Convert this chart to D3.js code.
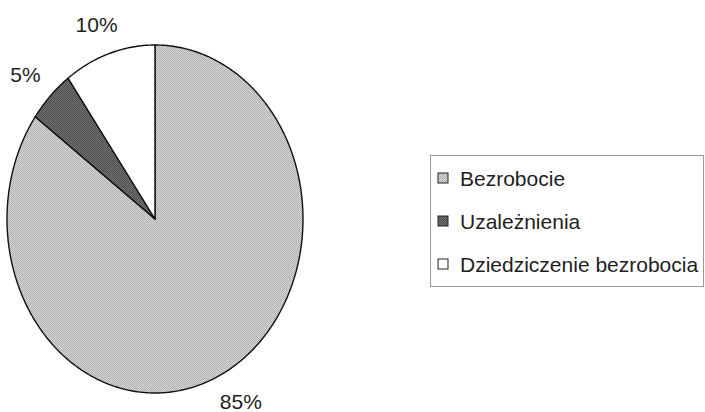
<!DOCTYPE html>
<html>
<head>
<meta charset="utf-8">
<script src="https://cdn.jsdelivr.net/npm/d3@7"></script>
<style>
  body { margin: 0; background: #fff; }
  text { font-family: "Liberation Sans", Arial, sans-serif; fill: #1e1e1e; }
</style>
</head>
<body>
<svg id="chart" width="705" height="412"></svg>
<script>
// chart data
const categories = ["Bezrobocie", "Uzależnienia", "Dziedziczenie bezrobocia"];
const values = [85, 5, 10];
const labels = ["85%", "5%", "10%"];

const svg = d3.select("#chart");
const defs = svg.append("defs");

// dither-like patterns to mimic the scanned halftone fills
function dither(id, a, b) {
  const p = defs.append("pattern").attr("id", id)
    .attr("width", 2).attr("height", 2).attr("patternUnits", "userSpaceOnUse");
  p.append("rect").attr("width", 2).attr("height", 2).attr("fill", a);
  p.append("rect").attr("width", 1).attr("height", 1).attr("fill", b);
  p.append("rect").attr("x", 1).attr("y", 1).attr("width", 1).attr("height", 1).attr("fill", b);
}
dither("lightFill", "#d6d6d6", "#b0b0b0");
dither("darkFill", "#747474", "#4c4c4c");

const fills = ["url(#lightFill)", "url(#darkFill)", "#ffffff"];

// pie geometry: the round pie is squashed into an ellipse
const cx = 155, cy = 219, rx = 148, ry = 174;

const pie = d3.pie().sort(null).value(d => d);
const arcs = pie(values);

// point on the ellipse for a pie angle (0 = 12 o'clock, clockwise)
const onEllipse = (a, ex, ey) => [Math.sin(a) * ex, -Math.cos(a) * ey];

function slicePath(d) {
  const steps = Math.max(4, Math.ceil((d.endAngle - d.startAngle) / 0.01));
  const angles = d3.range(steps + 1).map(k =>
    d.startAngle + (d.endAngle - d.startAngle) * k / steps);
  const pts = [[0, 0]].concat(angles.map(a => onEllipse(a, rx, ry)));
  return d3.line()(pts) + "Z";
}

const g = svg.append("g")
  .attr("transform", `translate(${cx},${cy})`);

g.selectAll("path")
  .data(arcs)
  .enter()
  .append("path")
  .attr("d", slicePath)
  .attr("fill", (d, i) => fills[i])
  .attr("stroke", "#111")
  .attr("stroke-width", 1.4)
  .attr("stroke-linejoin", "round");

// percentage labels outside the slices
const fontSize = 21;
g.selectAll(".lbl")
  .data(arcs)
  .enter()
  .append("text")
  .attr("class", "lbl")
  .attr("font-size", fontSize)
  .attr("text-anchor", "middle")
  .attr("dominant-baseline", "central")
  .text((d, i) => labels[i])
  .each(function (d) {
    const a = (d.startAngle + d.endAngle) / 2;
    const hw = this.getComputedTextLength() / 2, hh = fontSize / 2;
    const [px, py] = onEllipse(a, rx + 20, ry + 20);
    d3.select(this)
      .attr("x", px + Math.sin(a) * hw)
      .attr("y", py - Math.cos(a) * hh);
  });

// legend
const legend = svg.append("g").attr("transform", "translate(430,155)");
legend.append("rect")
  .attr("x", 0.5).attr("y", 0.5)
  .attr("width", 273).attr("height", 131)
  .attr("fill", "#fff")
  .attr("stroke", "#9a9a9a");

const item = legend.selectAll(".item")
  .data(categories)
  .enter()
  .append("g")
  .attr("class", "item")
  .attr("transform", (d, i) => `translate(8,${23 + i * 43})`);

item.append("rect")
  .attr("x", 0).attr("y", -5)
  .attr("width", 10).attr("height", 10)
  .attr("fill", (d, i) => fills[i])
  .attr("stroke", "#222");

item.append("text")
  .attr("x", 22)
  .attr("y", 0)
  .attr("dominant-baseline", "central")
  .attr("font-size", fontSize)
  .text(d => d);
</script>
</body>
</html>
